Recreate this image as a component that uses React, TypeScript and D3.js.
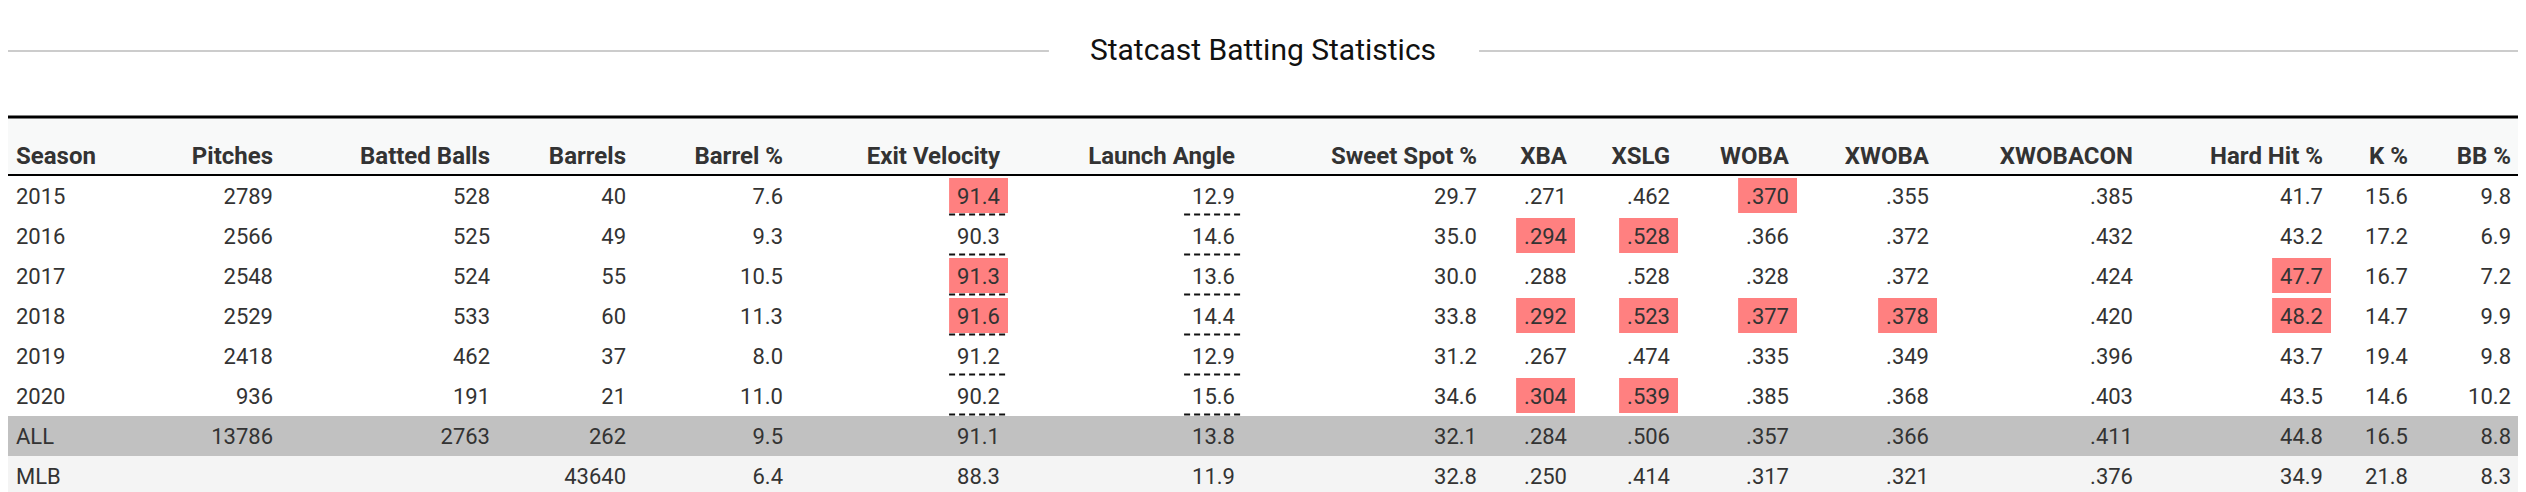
import React, { useEffect, useRef } from 'react';
import * as d3 from 'd3';

// table data, one array per column
const seasons = ['2015', '2016', '2017', '2018', '2019', '2020', 'ALL', 'MLB'];
const pitches = [2789, 2566, 2548, 2529, 2418, 936, 13786, null];
const battedBalls = [528, 525, 524, 533, 462, 191, 2763, null];
const barrels = [40, 49, 55, 60, 37, 21, 262, 43640];
const barrelPct = [7.6, 9.3, 10.5, 11.3, 8.0, 11.0, 9.5, 6.4];
const exitVelocity = [91.4, 90.3, 91.3, 91.6, 91.2, 90.2, 91.1, 88.3];
const launchAngle = [12.9, 14.6, 13.6, 14.4, 12.9, 15.6, 13.8, 11.9];
const sweetSpotPct = [29.7, 35.0, 30.0, 33.8, 31.2, 34.6, 32.1, 32.8];
const xba = [0.271, 0.294, 0.288, 0.292, 0.267, 0.304, 0.284, 0.25];
const xslg = [0.462, 0.528, 0.528, 0.523, 0.474, 0.539, 0.506, 0.414];
const woba = [0.37, 0.366, 0.328, 0.377, 0.335, 0.385, 0.357, 0.317];
const xwoba = [0.355, 0.372, 0.372, 0.378, 0.349, 0.368, 0.366, 0.321];
const xwobacon = [0.385, 0.432, 0.424, 0.42, 0.396, 0.403, 0.411, 0.376];
const hardHitPct = [41.7, 43.2, 47.7, 48.2, 43.7, 43.5, 44.8, 34.9];
const kPct = [15.6, 17.2, 16.7, 14.7, 19.4, 14.6, 16.5, 21.8];
const bbPct = [9.8, 6.9, 7.2, 9.9, 9.8, 10.2, 8.8, 8.3];

// cells shaded red (by season)
const highlighted: Record<string, string[]> = {
  exitVelocity: ['2015', '2017', '2018'],
  xba: ['2016', '2018', '2020'],
  xslg: ['2016', '2018', '2020'],
  woba: ['2015', '2018'],
  xwoba: ['2018'],
  hardHitPct: ['2017', '2018'],
};
// columns with the dotted underline on yearly rows
const underlined = ['exitVelocity', 'launchAngle'];

const intFmt = (v: number | null) => (v == null ? '' : String(v));
const oneDec = (v: number | null) => (v == null ? '' : d3.format('.1f')(v));
const rate = (v: number | null) => (v == null ? '' : d3.format('.3f')(v).replace(/^0/, ''));

const columns = [
  { key: 'season', label: 'Season', values: seasons, fmt: (v: any) => v },
  { key: 'pitches', label: 'Pitches', values: pitches, fmt: intFmt },
  { key: 'battedBalls', label: 'Batted Balls', values: battedBalls, fmt: intFmt },
  { key: 'barrels', label: 'Barrels', values: barrels, fmt: intFmt },
  { key: 'barrelPct', label: 'Barrel %', values: barrelPct, fmt: oneDec },
  { key: 'exitVelocity', label: 'Exit Velocity', values: exitVelocity, fmt: oneDec },
  { key: 'launchAngle', label: 'Launch Angle', values: launchAngle, fmt: oneDec },
  { key: 'sweetSpotPct', label: 'Sweet Spot %', values: sweetSpotPct, fmt: oneDec },
  { key: 'xba', label: 'XBA', values: xba, fmt: rate },
  { key: 'xslg', label: 'XSLG', values: xslg, fmt: rate },
  { key: 'woba', label: 'WOBA', values: woba, fmt: rate },
  { key: 'xwoba', label: 'XWOBA', values: xwoba, fmt: rate },
  { key: 'xwobacon', label: 'XWOBACON', values: xwobacon, fmt: rate },
  { key: 'hardHitPct', label: 'Hard Hit %', values: hardHitPct, fmt: oneDec },
  { key: 'kPct', label: 'K %', values: kPct, fmt: oneDec },
  { key: 'bbPct', label: 'BB %', values: bbPct, fmt: oneDec },
];

// x anchor of each column (left edge for Season, right edge for the rest)
const colAnchor = [16, 273, 490, 626, 783, 1000, 1235, 1477, 1567, 1670, 1789, 1929, 2133, 2323, 2408, 2511];

const FONT = 'Roboto, "Liberation Sans", sans-serif';

export default function App() {
  const ref = useRef<SVGSVGElement>(null);

  useEffect(() => {
    const width = 2526;
    const height = 492;
    const left = 8;
    const right = 2518;

    const svg = d3.select(ref.current);
    svg.selectAll('*').remove();

    const x = d3.scaleOrdinal<string, number>()
      .domain(columns.map(c => c.key))
      .range(colAnchor);
    const y = d3.scaleBand<string>()
      .domain(seasons)
      .range([176, 496]);

    // title with rules on either side
    const title = svg.append('text')
      .attr('x', width / 2)
      .attr('y', 60)
      .attr('text-anchor', 'middle')
      .attr('font-family', FONT)
      .attr('font-size', 30)
      .attr('fill', '#111')
      .text('Statcast Batting Statistics');
    const tb = (title.node() as SVGTextElement).getBBox();
    svg.append('line')
      .attr('x1', left).attr('x2', tb.x - 41)
      .attr('y1', 51).attr('y2', 51)
      .attr('stroke', '#cccccc').attr('stroke-width', 2);
    svg.append('line')
      .attr('x1', tb.x + tb.width + 43).attr('x2', right)
      .attr('y1', 51).attr('y2', 51)
      .attr('stroke', '#cccccc').attr('stroke-width', 2);

    // header band
    svg.append('rect')
      .attr('x', left).attr('y', 118)
      .attr('width', right - left).attr('height', 56)
      .attr('fill', '#f8f9f9');
    svg.append('line')
      .attr('x1', left).attr('x2', right)
      .attr('y1', 117).attr('y2', 117)
      .attr('stroke', '#000').attr('stroke-width', 3);
    svg.append('line')
      .attr('x1', left).attr('x2', right)
      .attr('y1', 175).attr('y2', 175)
      .attr('stroke', '#000').attr('stroke-width', 2);

    svg.append('g')
      .selectAll('text')
      .data(columns)
      .join('text')
      .attr('x', d => x(d.key))
      .attr('y', 164)
      .attr('text-anchor', d => (d.key === 'season' ? 'start' : 'end'))
      .attr('font-family', FONT)
      .attr('font-size', 24)
      .attr('font-weight', 700)
      .attr('fill', '#333')
      .text(d => d.label);

    // summary row backgrounds
    svg.append('rect')
      .attr('x', left).attr('y', y('ALL')!)
      .attr('width', right - left).attr('height', y.bandwidth())
      .attr('fill', '#c1c1c1');
    svg.append('rect')
      .attr('x', left).attr('y', y('MLB')!)
      .attr('width', right - left).attr('height', y.bandwidth())
      .attr('fill', '#f4f4f4');

    const body = svg.append('g');
    columns.forEach(col => {
      col.values.forEach((v: any, i: number) => {
        const season = seasons[i];
        const label = col.fmt(v);
        if (!label) return;
        const g = body.append('g');
        const t = g.append('text')
          .attr('x', x(col.key))
          .attr('y', y(season)! + 27.5)
          .attr('text-anchor', col.key === 'season' ? 'start' : 'end')
          .attr('font-family', FONT)
          .attr('font-size', 22)
          .attr('fill', '#333')
          .text(label);
        const b = (t.node() as SVGTextElement).getBBox();
        if ((highlighted[col.key] || []).includes(season)) {
          g.insert('rect', 'text')
            .attr('x', b.x - 8)
            .attr('y', y(season)! + 2)
            .attr('width', b.width + 16)
            .attr('height', 35)
            .attr('fill', '#ff8080');
        }
        if (underlined.includes(col.key) && /^\d{4}$/.test(season)) {
          g.append('line')
            .attr('x1', b.x - 8)
            .attr('x2', b.x + b.width + 8)
            .attr('y1', y(season)! + 38.5)
            .attr('y2', y(season)! + 38.5)
            .attr('stroke', '#111')
            .attr('stroke-width', 2)
            .attr('stroke-dasharray', '6,4');
        }
      });
    });
  }, []);

  return (
    <div style={{ position: 'absolute', left: 0, top: 0 }}>
      <svg ref={ref} width={2526} height={492} style={{ display: 'block' }} />
    </div>
  );
}
